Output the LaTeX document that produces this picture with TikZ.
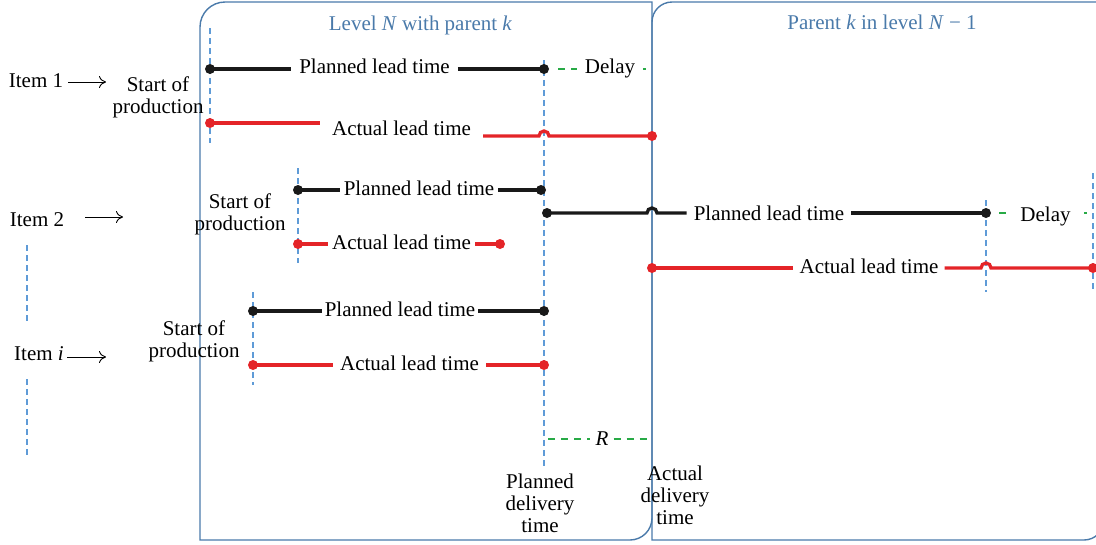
\documentclass[tikz,border=0pt]{standalone}
\usepackage{fontspec}
\setmainfont{Liberation Serif}
\usetikzlibrary{arrows.meta}
\definecolor{boxblue}{RGB}{74,122,170}
\definecolor{guideblue}{RGB}{95,155,215}
\definecolor{dgreen}{RGB}{40,170,70}
\definecolor{lred}{RGB}{228,36,40}
\definecolor{lblack}{RGB}{25,25,25}
\begin{document}
\begin{tikzpicture}[x=1pt,y=-1pt,
  txt/.style={font=\fontsize{21}{22}\selectfont, inner sep=3pt, anchor=base},
  multi/.style={font=\fontsize{21}{22}\selectfont, inner sep=0pt, align=center},
  titletxt/.style={txt, text=boxblue},
  boxline/.style={draw=boxblue, line width=1.4pt},
  guide/.style={draw=guideblue, line width=1.1pt, dash pattern=on 6pt off 4pt},
  gdash/.style={draw=dgreen, line width=1.3pt, dash pattern=on 7pt off 6pt},
  pline/.style={draw=lblack, line width=3.3pt},
  aline/.style={draw=lred, line width=3.3pt},
  bdot/.style={circle, fill=lblack, inner sep=0pt, minimum size=10pt},
  rdot/.style={circle, fill=lred, inner sep=0pt, minimum size=10pt},
  itemarrow/.style={draw=black, line width=0.9pt, -{Computer Modern Rightarrow[length=7pt,width=12pt]}},
]
\useasboundingbox (0,0) rectangle (1096,544);

% boxes
\path[boxline] (200,540) -- (200,27) arc[start angle=180,end angle=270,radius=25]
  -- (652,2) -- (652,518) arc[start angle=0,end angle=90,radius=22] -- cycle;
\path[boxline] (652,540) -- (652,22) arc[start angle=180,end angle=270,radius=20]
  -- (1104,2) -- (1104,520) arc[start angle=0,end angle=90,radius=20] -- cycle;

\node[titletxt] (tl) at (420.5,30) {Level \textit{N} with parent \textit{k}};
\node[titletxt] (tr) at (882,29) {Parent \textit{k} in level \textit{N} − 1};

% guides
\coordinate (g1t) at (210,28);  \coordinate (g1b) at (210,143);
\coordinate (g2t) at (298,168); \coordinate (g2b) at (298,263);
\coordinate (g3t) at (253,292); \coordinate (g3b) at (253,385);
\coordinate (g4t) at (544,60);  \coordinate (g4b) at (544,467);
\coordinate (g5t) at (986,200); \coordinate (g5b) at (986,292);
\coordinate (g6t) at (1093,173);\coordinate (g6b) at (1093,290);
\coordinate (g7t) at (27,245);  \coordinate (g7b) at (27,324);
\coordinate (g8t) at (27,379);  \coordinate (g8b) at (27,458);
\foreach \g in {1,...,8} {\draw[guide] (g\g t) -- (g\g b);}

% ---------- Item 1
\node[txt] (it1) at (36,87) {Item 1};
\coordinate (i1a) at (68,82); \coordinate (i1b) at (106,82);
\draw[itemarrow] (i1a) -- (i1b);
\node[multi] (sp1) at (158,97.2) {Start of\\production};

\node[bdot] (p1s) at (210,69) {};
\node[bdot] (p1e) at (544,69) {};
\node[txt, inner xsep=8pt] (p1t) at (374.5,73) {Planned lead time};
\draw[pline] (p1s.center) -- (p1t.west |- p1s.center);
\draw[pline] (p1t.east |- p1e.center) -- (p1e.center);

\node[txt, inner xsep=8pt] (d1) at (610,73) {Delay};
\coordinate (d1a) at (558,69); \coordinate (d1b) at (646,69);
\draw[gdash] (d1a) -- (d1.west |- d1a);
\draw[gdash] (d1.east |- d1b) -- (d1b);

\node[rdot] (a1s) at (210,123) {};
\node[rdot] (a1e) at (652,136) {};
\node[txt, inner xsep=12pt] (a1t) at (401.5,135) {Actual lead time};
\coordinate (h1) at (544,136);
\draw[aline] (a1s.center) -- (a1t.west |- a1s.center);
\draw[aline] (a1t.east |- a1e.center) -- ([xshift=-5pt]h1) arc[start angle=180,end angle=360,radius=5] -- (a1e.center);

% ---------- Item 2
\node[txt] (it2) at (37,226) {Item 2};
\coordinate (i2a) at (85,217); \coordinate (i2b) at (123,217);
\draw[itemarrow] (i2a) -- (i2b);
\node[multi] (sp2) at (240,214) {Start of\\production};

\node[bdot] (p2s) at (298,190) {};
\node[bdot] (p2e) at (541,190) {};
\node[txt, inner xsep=4pt] (p2t) at (419,195) {Planned lead time};
\draw[pline] (p2s.center) -- (p2t.west |- p2s.center);
\draw[pline] (p2t.east |- p2e.center) -- (p2e.center);

\node[rdot] (a2s) at (298,244) {};
\node[rdot] (a2e) at (500,244) {};
\node[txt, inner xsep=4pt] (a2t) at (401.5,249) {Actual lead time};
\draw[aline] (a2s.center) -- (a2t.west |- a2s.center);
\draw[aline] (a2t.east |- a2e.center) -- (a2e.center);

\node[bdot] (q2s) at (547,213) {};
\node[bdot] (q2e) at (986,213) {};
\node[txt, inner xsep=7pt] (q2t) at (769,220) {Planned lead time};
\coordinate (h2) at (652,213);
\draw[pline] (q2s.center) -- ([xshift=-5pt]h2) arc[start angle=180,end angle=360,radius=5] -- (q2t.west |- q2s.center);
\draw[pline] (q2t.east |- q2e.center) -- (q2e.center);

\node[txt, inner xsep=13pt] (d2) at (1045.5,221) {Delay};
\coordinate (d2a) at (999,213); \coordinate (d2b) at (1087,213);
\draw[gdash] (d2a) -- (d2.west |- d2a);
\draw[gdash] (d2.east |- d2b) -- (d2b);

\node[rdot] (b2s) at (652,268) {};
\node[rdot] (b2e) at (1093,268) {};
\node[txt, inner xsep=6pt] (b2t) at (869,273) {Actual lead time};
\coordinate (h3) at (986,268);
\draw[aline] (b2s.center) -- (b2t.west |- b2s.center);
\draw[aline] (b2t.east |- b2e.center) -- ([xshift=-5pt]h3) arc[start angle=180,end angle=360,radius=5] -- (b2e.center);

% ---------- Item i
\node[txt] (iti) at (39,360) {Item \textit{i}};
\coordinate (iia) at (67,357); \coordinate (iib) at (106,357);
\draw[itemarrow] (iia) -- (iib);
\node[multi] (spi) at (194,341) {Start of\\production};

\node[bdot] (pis) at (253,311) {};
\node[bdot] (pie) at (544,311) {};
\node[txt, inner xsep=3pt] (pit) at (400,316) {Planned lead time};
\draw[pline] (pis.center) -- (pit.west |- pis.center);
\draw[pline] (pit.east |- pie.center) -- (pie.center);

\node[rdot] (ais) at (253,365) {};
\node[rdot] (aie) at (544,365) {};
\node[txt, inner xsep=7pt] (ait) at (409.5,370) {Actual lead time};
\draw[aline] (ais.center) -- (ait.west |- ais.center);
\draw[aline] (ait.east |- aie.center) -- (aie.center);

% ---------- R and delivery times
\node[txt, inner xsep=5pt] (rr) at (602,445) {\textit{R}};
\coordinate (r0) at (548,439); \coordinate (r1) at (652,439);
\draw[gdash] (r0) -- (rr.west |- r0);
\draw[gdash] (rr.east |- r1) -- (r1);

\node[multi] (pdt) at (540,503) {Planned\\delivery\\time};
\node[multi] (adt) at (675,495) {Actual\\delivery\\time};
\end{tikzpicture}
\end{document}
